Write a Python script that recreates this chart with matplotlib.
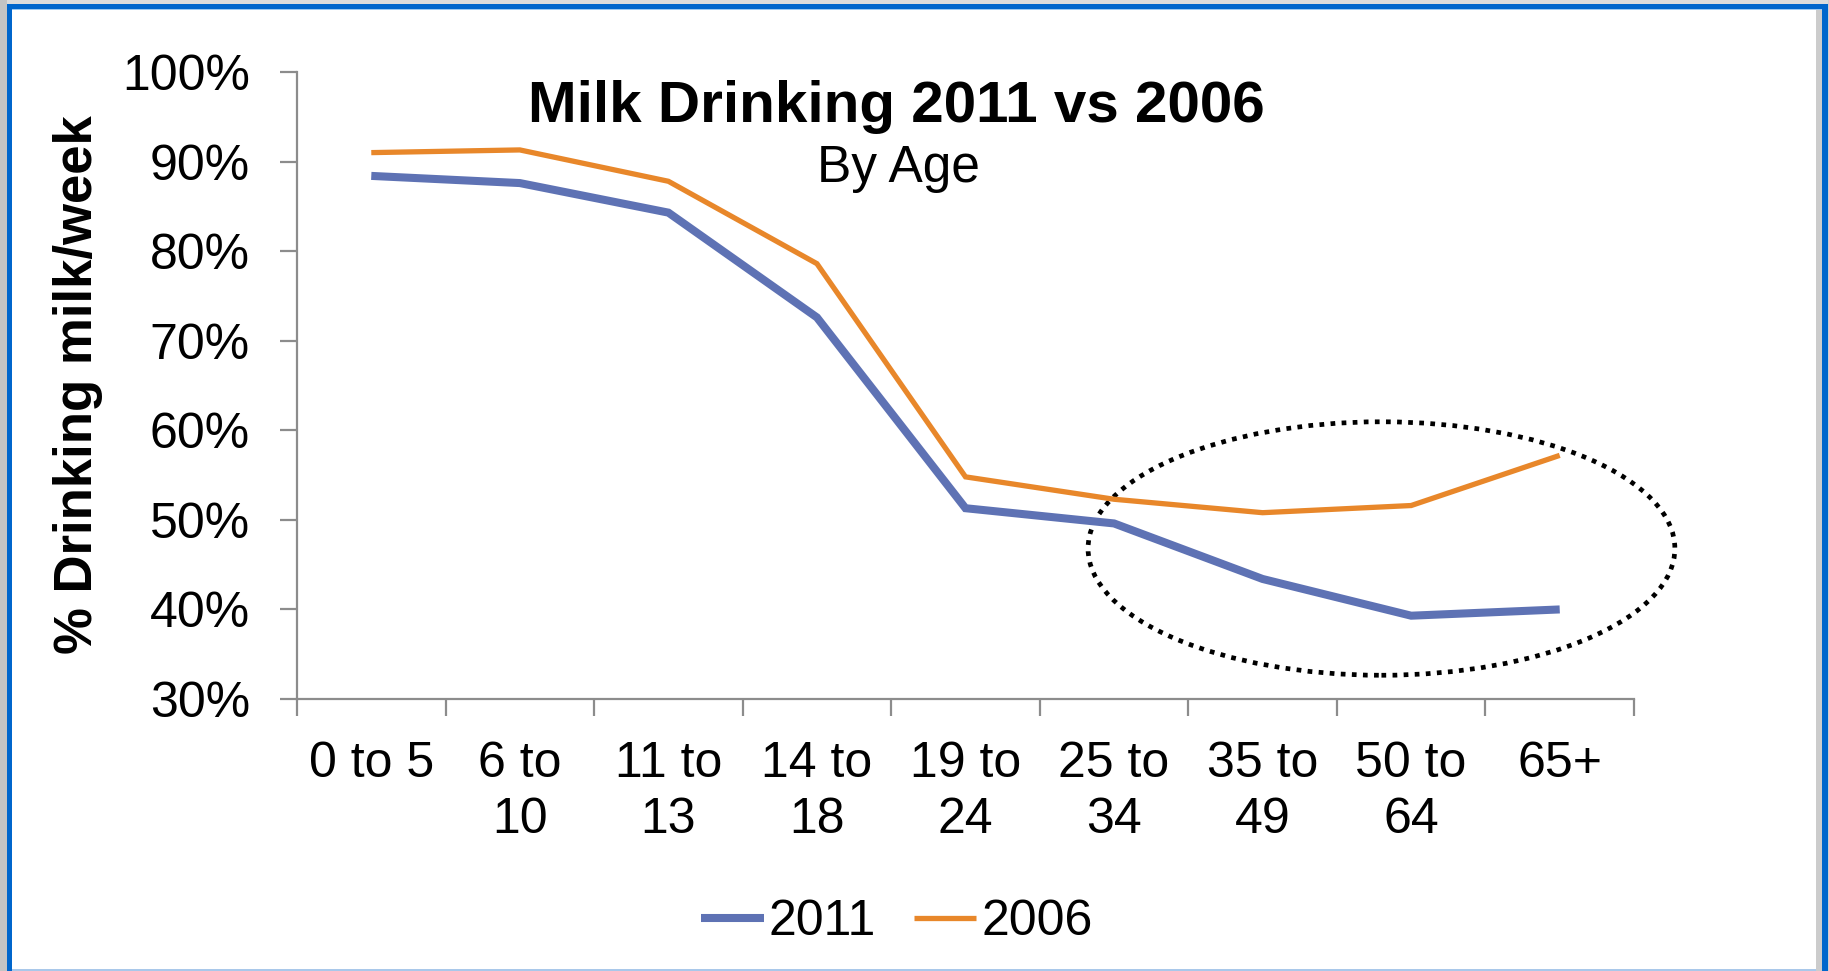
import matplotlib
matplotlib.use("Agg")
import matplotlib.pyplot as plt
from matplotlib.patches import Ellipse, Rectangle
import numpy as np

plt.rcParams['font.family'] = ['Liberation Sans', 'DejaVu Sans']

age_groups = ['0 to 5', '6 to\n10', '11 to\n13', '14 to\n18', '19 to\n24',
              '25 to\n34', '35 to\n49', '50 to\n64', '65+']
pct_2011 = [88.4, 87.6, 84.3, 72.6, 51.3, 49.6, 43.4, 39.3, 40.0]
pct_2006 = [91.0, 91.3, 87.8, 78.6, 54.8, 52.3, 50.8, 51.6, 57.2]
y_ticks = [30, 40, 50, 60, 70, 80, 90, 100]

W, H = 1829, 971
fig = plt.figure(figsize=(W / 100, H / 100), dpi=100, facecolor='white')


def px_rect(x0, y0, x1, y1, color):
    # rectangle given in pixel coords measured from the top-left corner
    fig.patches.append(Rectangle((x0 / W, 1 - y1 / H), (x1 - x0) / W, (y1 - y0) / H,
                                 transform=fig.transFigure, facecolor=color,
                                 edgecolor='none', zorder=-5))


# window frame around the chart
px_rect(0, 0, W, 4, '#dcdcdc')
px_rect(0, 0, 7, H, '#c4c4c4')
px_rect(1828, 0, W, H, '#d0d0d0')
px_rect(7, 4, 1828, 9, '#0066cc')
px_rect(7, 4, 12, H, '#0066cc')
px_rect(1822, 4, 1828, H, '#0066cc')
px_rect(12, 9, 1822, 10, '#9cc8f0')
px_rect(1816, 10, 1822, H, '#cccccc')
px_rect(12, 969, 1816, H, '#a9c8ea')

ax = fig.add_axes([297 / W, 1 - 699 / H, (1634 - 297) / W, (699 - 72) / H])
x = np.arange(len(age_groups))

l1, = ax.plot(x, pct_2011, color='#5e72b4', lw=5.8, solid_joinstyle='miter',
              solid_capstyle='butt', label='2011')
l2, = ax.plot(x, pct_2006, color='#e8872a', lw=3.8, solid_joinstyle='miter',
              solid_capstyle='butt', label='2006')

# highlight the adult age groups
ax.add_patch(Ellipse((6.8, 46.8), 3.95, 28.3, fill=False, edgecolor='black',
                     lw=3.4, linestyle=(0, (1, 1.35)), clip_on=False))

ax.set_xlim(-0.5, len(age_groups) - 0.5)
ax.set_ylim(30, 100)
ax.set_yticks(y_ticks)
ax.set_yticklabels([f'{v}%' for v in y_ticks])
ax.set_xticks(np.arange(len(age_groups) + 1) - 0.5)
ax.set_xticklabels([])
ax.set_xticks(x, minor=True)
ax.set_xticklabels(age_groups, minor=True, linespacing=1.28)

for s in ['top', 'right']:
    ax.spines[s].set_visible(False)
for s in ['left', 'bottom']:
    ax.spines[s].set_color('#8c8c8c')
    ax.spines[s].set_linewidth(1.6)

ax.tick_params(axis='y', which='major', direction='out', length=12, width=1.6,
               color='#8c8c8c', labelsize=36, pad=22)
ax.tick_params(axis='x', which='major', direction='out', length=12, width=1.6,
               color='#8c8c8c')
ax.tick_params(axis='x', which='minor', length=0, labelsize=36, pad=30)

fig.text(896 / W, 1 - 122 / H, 'Milk Drinking 2011 vs 2006', ha='center',
         va='baseline', fontsize=42, fontweight='bold')
fig.text(898 / W, 1 - 182 / H, 'By Age', ha='center', va='baseline', fontsize=37)
fig.text(78 / W, 1 - 385 / H, '% Drinking milk/week', rotation=90, ha='center',
         va='center', fontsize=38, fontweight='bold')

fig.legend(handles=[l1, l2], loc='center', bbox_to_anchor=(897 / W, 1 - 922 / H),
           ncol=2, frameon=False, fontsize=36, handlelength=1.25,
           handletextpad=0.1, columnspacing=0.75)

fig.savefig('out.png', dpi=100, facecolor=fig.get_facecolor())
